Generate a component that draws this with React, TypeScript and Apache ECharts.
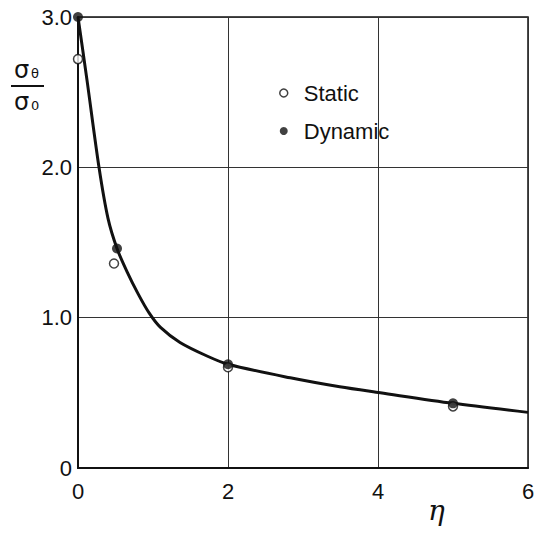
import React, { useEffect, useRef } from "react";
import * as echarts from "echarts";

const xTicks = [0, 2, 4, 6];
const yTicks = [0, 1, 2, 3];
const staticData: [number, number][] = [
  [0, 2.72],
  [0.48, 1.36],
  [2, 0.67],
  [5, 0.41],
];
const dynamicData: [number, number][] = [
  [0, 3.0],
  [0.52, 1.46],
  [2, 0.69],
  [5, 0.43],
];
const curveData: [number, number][] = [
  [0, 3.0],
  [0.12, 2.58],
  [0.28, 2.0],
  [0.4, 1.66],
  [0.52, 1.46],
  [0.65, 1.31],
  [0.8, 1.16],
  [0.95, 1.03],
  [1.1, 0.935],
  [1.36, 0.835],
  [1.72, 0.745],
  [2, 0.69],
  [2.83, 0.6],
  [3.49, 0.54],
  [4.03, 0.5],
  [5, 0.43],
  [6, 0.37],
];

export default function App() {
  const ref = useRef<HTMLDivElement>(null);
  useEffect(() => {
    if (!ref.current) return;
    const chart = echarts.init(ref.current, null, { renderer: "svg" });
    const font = "Liberation Sans";
    chart.setOption({
      animation: false,
      backgroundColor: "#ffffff",
      grid: {
        left: 78,
        top: 17,
        right: 14,
        bottom: 66,
        show: true,
        borderColor: "#111",
        borderWidth: 1.5,
      },
      legend: {
        orient: "vertical",
        left: 274,
        top: 77,
        itemWidth: 10,
        itemHeight: 8,
        itemGap: 16,
        textStyle: { fontFamily: font, fontSize: 22, color: "#111", padding: [0, 0, 0, 10] },
        data: [
          { name: "Static", icon: "circle", itemStyle: { color: "#fff", borderColor: "#111", borderWidth: 1.5 } },
          { name: "Dynamic", icon: "circle", itemStyle: { color: "#111" } },
        ],
      },
      xAxis: {
        type: "value",
        min: 0,
        max: 6,
        interval: 2,
        axisLine: { show: true, lineStyle: { color: "#111", width: 2 } },
        axisTick: { show: false },
        splitLine: { show: true, lineStyle: { color: "#333", width: 1 } },
        axisLabel: {
          fontFamily: font,
          fontSize: 22,
          color: "#111",
          margin: 12,
          customValues: xTicks,
          formatter: (v: number) => String(v),
        },
      },
      yAxis: {
        type: "value",
        min: 0,
        max: 3,
        interval: 1,
        axisLine: { show: true, lineStyle: { color: "#111", width: 2 } },
        axisTick: { show: false },
        splitLine: { show: true, lineStyle: { color: "#333", width: 1 } },
        axisLabel: {
          fontFamily: font,
          fontSize: 22,
          color: "#111",
          margin: 6,
          customValues: yTicks,
          formatter: (v: number) => (v === 0 ? "0" : v.toFixed(1)),
        },
      },
      series: [
        {
          name: "curve",
          type: "line",
          data: curveData,
          smooth: 0.3,
          showSymbol: false,
          symbol: "none",
          lineStyle: { color: "#111", width: 3 },
          z: 2,
        },
        {
          name: "Static",
          type: "scatter",
          data: staticData,
          symbol: "circle",
          symbolSize: 9,
          itemStyle: { color: "#fff", borderColor: "#111", borderWidth: 1.5 },
          z: 3,
        },
        {
          name: "Dynamic",
          type: "scatter",
          data: dynamicData,
          symbol: "circle",
          symbolSize: 10,
          itemStyle: { color: "#111" },
          z: 4,
        },
      ],
      graphic: [
        { type: "text", left: 14, top: 58, style: { text: "σ", font: "24px 'DejaVu Sans'", fill: "#111" } },
        { type: "text", left: 31, top: 67, style: { text: "θ", font: "13px 'DejaVu Sans'", fill: "#111" } },
        { type: "line", shape: { x1: 11, y1: 86, x2: 44, y2: 86 }, style: { stroke: "#111", lineWidth: 2 } },
        { type: "text", left: 14, top: 90, style: { text: "σ", font: "24px 'DejaVu Sans'", fill: "#111" } },
        { type: "text", left: 31, top: 99, style: { text: "0", font: "13px 'DejaVu Sans'", fill: "#111" } },
        { type: "text", left: 428, top: 496, style: { text: "η", font: "italic 28px 'DejaVu Serif'", fill: "#111" } },
      ],
    });
    return () => chart.dispose();
  }, []);
  return <div ref={ref} style={{ width: 542, height: 534, margin: -8 }} />;
}
